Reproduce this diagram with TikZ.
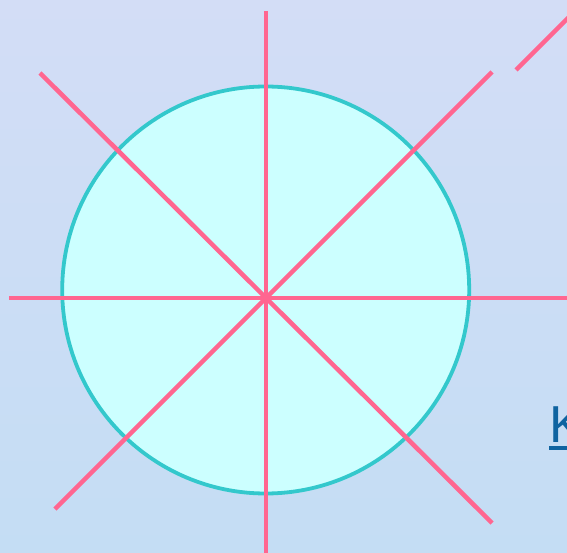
\documentclass[tikz,border=0pt]{standalone}
\usepackage{fontspec}
\setmainfont{Liberation Sans}
\definecolor{bgtop}{HTML}{D3DDF6}
\definecolor{bgbottom}{HTML}{C4DDF4}
\definecolor{spoke}{HTML}{FF6690}
\definecolor{rim}{HTML}{33C8CC}
\definecolor{disc}{HTML}{CCFFFF}
\definecolor{linkblue}{HTML}{0F63A0}

\begin{document}
\begin{tikzpicture}[
  x=1pt,
  y=-1pt,
  spokeline/.style={draw=spoke, line width=4.5pt},
  circ/.style={draw=rim, line width=3.8pt, fill=disc},
  link/.style={text=linkblue, font=\fontsize{52}{52}\selectfont, inner sep=0pt},
  linkrule/.style={draw=linkblue, line width=3.5pt}
]

% Background and frame
\path[top color=bgtop, bottom color=bgbottom] (0,0) rectangle (567,553);
\useasboundingbox (0,0) rectangle (567,553);
\clip (0,0) rectangle (567,553);

% Circle
\coordinate (centre) at (265.7,290);
\path[circ] (centre) circle[radius=203.5];

% Symmetry axes through the centre
\coordinate (n) at (266,11);
\coordinate (s) at (266,560);
\coordinate (w) at (9,298);
\coordinate (e) at (575,298);
\coordinate (nw) at (40,73);
\coordinate (se) at (492,523);
\coordinate (sw) at (55,509);
\coordinate (ne) at (492,72);
\coordinate (ne2a) at (516,70);
\coordinate (ne2b) at (570,16);

\draw[spokeline] (n) -- (s);
\draw[spokeline] (w) -- (e);
\draw[spokeline] (nw) -- (se);
\draw[spokeline] (sw) -- (ne);
\draw[spokeline] (ne2a) -- (ne2b);

% Link text, cut at the right edge
\node[link, anchor=base west] (keytext) at (549,442) {K};
\coordinate (ulstart) at (549,448);
\coordinate (ulend) at (575,448);
\draw[linkrule] (ulstart) -- (ulend);

\end{tikzpicture}
\end{document}
